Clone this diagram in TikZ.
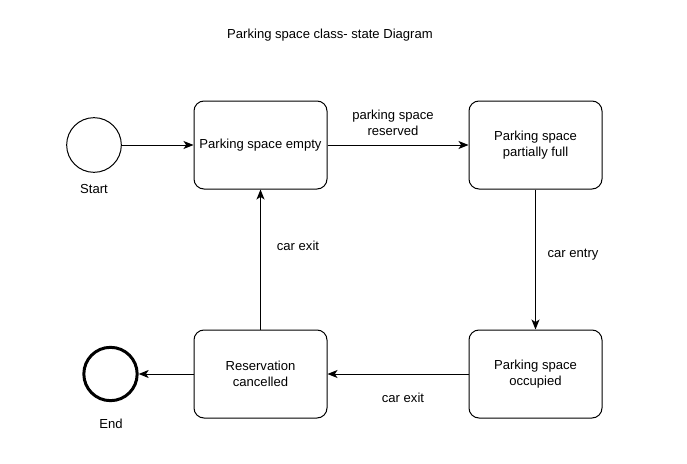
\documentclass[tikz,border=0pt]{standalone}
\usepackage{fontspec}
\setmainfont{Liberation Sans}
\usetikzlibrary{positioning, arrows.meta}

\begin{document}
\begin{tikzpicture}[x=0.75pt, y=-0.75pt, font=\fontsize{9.8pt}{12pt}\selectfont,
  statebox/.style={draw, rounded corners=7.5pt, line width=0.75pt, minimum width=99.75pt, minimum height=66pt, align=center},
  flow/.style={-{Stealth[length=7.5pt, width=6pt, inset=2pt]}, line width=0.75pt},
  lbl/.style={align=center}]
\useasboundingbox (0,0) rectangle (687,464);

\node at (330,35) (title) {Parking space class- state Diagram};

\node[draw, circle, line width=0.75pt, minimum size=41pt, inner sep=0pt] at (94,145) (start) {};
\node at (94,189) (startlbl) {Start};
\node[draw, circle, line width=2.25pt, minimum size=40pt, inner sep=0pt] at (110.5,374) (end) {};
\node at (111,424) (endlbl) {End};

\node[statebox] at (260.5,145) (empty) {Parking space empty};
\node[statebox] at (535.5,145) (partial) {Parking space\\partially full};
\node[statebox] at (535.5,374) (occupied) {Parking space\\occupied};
\node[statebox] at (260.5,374) (cancelled) {Reservation\\cancelled};

\draw[flow] (start) -- (empty);
\draw[flow] (empty) -- (partial);
\draw[flow] (partial) -- (occupied);
\draw[flow] (occupied) -- (cancelled);
\draw[flow] (cancelled) -- (empty);
\draw[flow] (cancelled) -- (end);

\node[lbl] at (393,123) (reserved) {parking space\\reserved};
\node at (573,255) (entry) {car entry};
\node at (403,398) (exitb) {car exit};
\node at (298,246) (exitl) {car exit};
\end{tikzpicture}
\end{document}
